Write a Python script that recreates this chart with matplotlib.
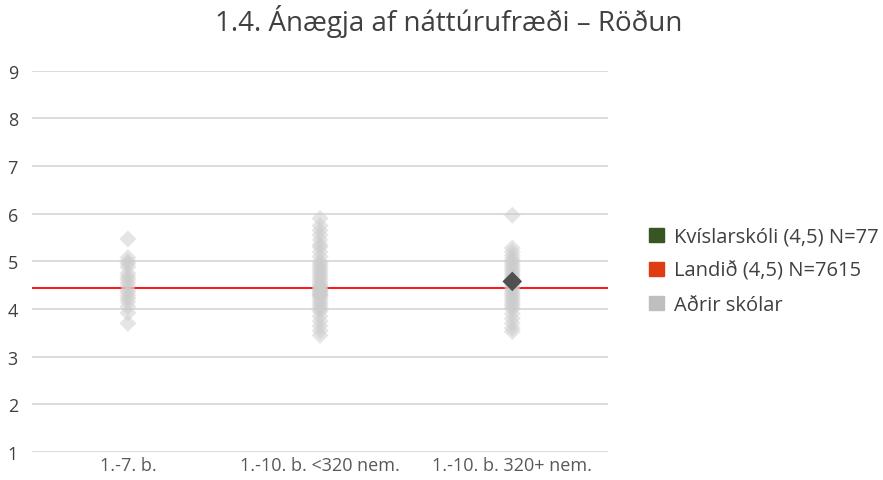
# plot.py
# Ánægja af náttúrufræði - röðun skóla
import matplotlib.pyplot as plt
from matplotlib.patches import Patch

plt.rcParams['font.family'] = ['Open Sans', 'DejaVu Sans']

categories = ['1.-7. b.', '1.-10. b. <320 nem.', '1.-10. b. 320+ nem.']

# other schools per category
group_small = [5.47, 5.08, 5.0, 4.95, 4.88, 4.75, 4.68, 4.62, 4.55, 4.48,
               4.4, 4.35, 4.28, 4.22, 4.15, 4.05, 3.92, 3.7]
group_mid = [5.9, 5.75, 5.65, 5.55, 5.45, 5.35, 5.3, 5.2, 5.1, 5.0, 4.95,
             4.9, 4.85, 4.8, 4.75, 4.7, 4.65, 4.6, 4.55, 4.5, 4.48, 4.45,
             4.42, 4.4, 4.38, 4.35, 4.32, 4.3, 4.28, 4.25, 4.2, 4.15, 4.1,
             4.05, 4.0, 3.95, 3.85, 3.75, 3.65, 3.55, 3.45]
group_large = [5.97, 5.28, 5.2, 5.12, 5.05, 5.0, 4.95, 4.9, 4.85, 4.8, 4.75,
               4.7, 4.65, 4.6, 4.55, 4.5, 4.45, 4.4, 4.35, 4.3, 4.25, 4.2,
               4.15, 4.1, 4.05, 4.0, 3.9, 3.8, 3.7, 3.6, 3.53]
others = [group_small, group_mid, group_large]

school_cat = 2
school_value = 4.58
national_value = 4.44

legend_labels = ['Kvíslarskóli (4,5) N=77', 'Landið (4,5) N=7615', 'Aðrir skólar']

fig = plt.figure(figsize=(8.83, 4.81), dpi=100)
ax = fig.add_axes([0.036, 0.058, 0.653, 0.793])

for i, vals in enumerate(others):
    ax.scatter([i] * len(vals), vals, marker='D', s=75, color='#cccccc',
               alpha=0.5, edgecolors='none', zorder=3)

ax.axhline(national_value, color='#ff0000', lw=1.3, zorder=2)
ax.scatter([school_cat], [school_value], marker='D', s=100, color='#505050',
           edgecolors='none', zorder=4)

ax.set_xlim(-0.5, 2.5)
ax.set_ylim(1, 9)
ax.set_yticks(range(1, 10))
ax.set_xticks(range(len(categories)))
ax.set_xticklabels(categories, fontsize=13, color='#595959')
ax.tick_params(axis='y', labelsize=13, labelcolor='#404040', length=0, pad=10)
ax.tick_params(axis='x', length=0, pad=3)
ax.grid(axis='y', color='#d9d9d9', lw=1.3, zorder=0)
ax.set_axisbelow(True)
for s in ax.spines.values():
    s.set_visible(False)

fig.text(0.508, 0.955, '1.4. Ánægja af náttúrufræði – Röðun', fontsize=20,
         color='#404040', ha='center', va='center')

handles = [Patch(color='#375623'), Patch(color='#e03c14'), Patch(color='#bfbfbf')]
fig.legend(handles, legend_labels, loc='center left',
           bbox_to_anchor=(0.715, 0.435), frameon=False, fontsize=14.5,
           handlelength=0.7, handleheight=0.7, handletextpad=0.5,
           labelspacing=0.7, labelcolor='#404040')

fig.savefig('out.png', dpi=100)
